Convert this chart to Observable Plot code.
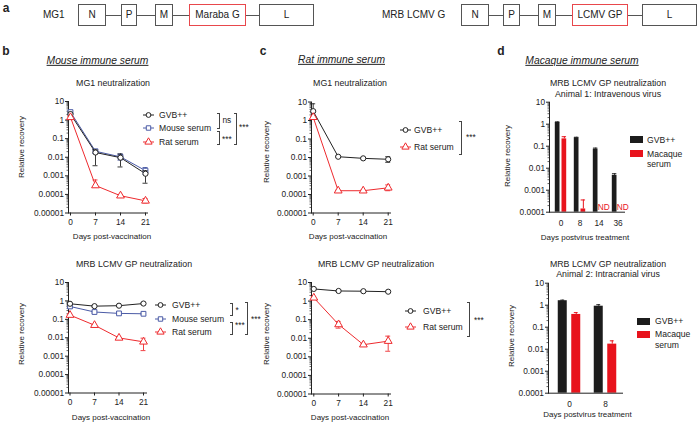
<!DOCTYPE html>
<html><head><meta charset="utf-8">
<script src="https://cdn.jsdelivr.net/npm/d3@7"></script>
<script src="https://cdn.jsdelivr.net/npm/@observablehq/plot@0.6"></script>
<style>
body{margin:0;background:#fff;}
#fig{position:relative;width:700px;height:426px;overflow:hidden;font-family:"Liberation Sans",Arial,Helvetica,sans-serif;color:#222;background:#fff;}
#fig > svg{position:absolute;left:0;top:0;background:transparent !important;}
.t{position:absolute;white-space:nowrap;line-height:1;}
.box{position:absolute;box-sizing:border-box;border:1px solid #555;display:flex;align-items:center;justify-content:center;font-size:10px;background:#fff;}
.hl{position:absolute;height:1px;background:#555;}
.br{position:absolute;box-sizing:border-box;border:1px solid #444;border-left:none;width:3px;}
</style></head><body><div id="fig"></div><script>
// ---------- data ----------
const days = [0, 7, 14, 21];
const yTicks = [10, 1, 0.1, 0.01, 0.001, 0.0001, 0.00001];
const yTickLabels = ["10", "1", "0.1", "0.01", "0.001", "0.0001", "0.00001"];
const seriesNames = ["GVB++", "Mouse serum", "Rat serum"];

// b (top): MG1 neutralization, mouse immune serum
const mg1MouseGVB   = [2.1, 0.018, 0.0095, 0.0013];
const mg1MouseGVBLo = [1.7, 0.0035, 0.003, 0.0004];
const mg1MouseGVBHi = [2.6, 0.025, 0.015, 0.0019];
const mg1MouseMou   = [2.7, 0.021, 0.0105, 0.0019];
const mg1MouseMouLo = [2.2, 0.016, 0.007, 0.0012];
const mg1MouseMouHi = [3.2, 0.026, 0.015, 0.0028];
const mg1MouseRat   = [1.4, 0.0003, 0.000085, 0.000045];
const mg1MouseRatLo = [1.2, 0.00025, 0.00007, 0.000035];
const mg1MouseRatHi = [1.6, 0.0006, 0.0001, 0.00006];

// b (bottom): MRB LCMV GP neutralization, mouse immune serum
const lcmvMouseGVB   = [0.7, 0.52, 0.55, 0.72];
const lcmvMouseGVBLo = [0.6, 0.47, 0.5, 0.66];
const lcmvMouseGVBHi = [0.8, 0.57, 0.6, 0.78];
const lcmvMouseMou   = [0.5, 0.25, 0.21, 0.2];
const lcmvMouseMouLo = [0.4, 0.22, 0.19, 0.18];
const lcmvMouseMouHi = [0.6, 0.28, 0.23, 0.22];
const lcmvMouseRat   = [0.17, 0.048, 0.0098, 0.006];
const lcmvMouseRatLo = [0.15, 0.043, 0.0088, 0.002];
const lcmvMouseRatHi = [0.19, 0.053, 0.011, 0.0095];

// c (top): MG1 neutralization, rat immune serum
const mg1RatGVB   = [3.2, 0.011, 0.009, 0.008];
const mg1RatGVBLo = [2.6, 0.0105, 0.0085, 0.0055];
const mg1RatGVBHi = [8, 0.0118, 0.0095, 0.011];
const mg1RatRat   = [1.5, 0.00016, 0.00016, 0.00023];
const mg1RatRatLo = [1.3, 0.00015, 0.00015, 0.00016];
const mg1RatRatHi = [1.7, 0.00017, 0.00017, 0.00033];

// c (bottom): MRB LCMV GP neutralization, rat immune serum
const lcmvRatGVB   = [4.5, 3.5, 3.4, 3.2];
const lcmvRatGVBLo = [4.0, 3.3, 3.2, 3.0];
const lcmvRatGVBHi = [5.0, 3.7, 3.6, 3.4];
const lcmvRatRat   = [1.5, 0.055, 0.0045, 0.007];
const lcmvRatRatLo = [1.3, 0.035, 0.004, 0.002];
const lcmvRatRatHi = [1.7, 0.08, 0.005, 0.013];

// d: macaque immune serum (bars)
const barSeries = ["GVB++", "Macaque serum"];
const a1Days = ["0", "8", "14", "36"];
const a1GVB   = [1.2, 0.24, 0.073, 0.0047];
const a1GVBHi = [1.27, 0.255, 0.082, 0.0056];
const a1Mac   = [0.215, 0.00014, null, null];
const a1MacHi = [0.27, 0.00036, null, null];
const a1ND    = ["14", "36"];
const a2Days = ["0", "8"];
const a2GVB   = [1.6, 0.9];
const a2GVBHi = [1.7, 1.05];
const a2Mac   = [0.38, 0.017];
const a2MacHi = [0.46, 0.024];

// schematic
const mg1Genes = ["N", "P", "M", "Maraba G", "L"];
const mrbGenes = ["N", "P", "M", "LCMV GP", "L"];

// ---------- styles ----------
const BLACK = "#222", BLUE = "#4b5ba6", RED = "#ee2a2e", BARBLK = "#1c1c1c", BARRED = "#e8131c";
const FONT = "'Liberation Sans', Arial, Helvetica, sans-serif";
const fig = document.getElementById("fig");

function fmtY(d) { const i = yTicks.indexOf(d); return i >= 0 ? yTickLabels[i] : ""; }
function minorTicks(k0, k1) {
  const out = [];
  for (let k = k0; k < k1; k++) for (let m = 2; m <= 9; m++) out.push(+(m * Math.pow(10, k)).toPrecision(3));
  return out;
}
function plotStyle() {
  return {background: "transparent", fontFamily: FONT, fontSize: "8.3px", color: "#222", overflow: "visible"};
}

function linePanel(p) {
  const marks = [
    Plot.axisY({ticks: minorTicks(-5, 1), tickSize: 1.5, tickFormat: () => "", label: null, strokeWidth: 0.7}),
    Plot.axisY({ticks: yTicks, tickSize: 3, tickPadding: 1.5, tickFormat: fmtY, label: null}),
    Plot.axisX({ticks: days, tickSize: 3, tickPadding: 3.5, label: null}),
    Plot.frame({anchor: "left", stroke: "#222"}),
    Plot.frame({anchor: "bottom", stroke: "#222"})
  ];
  for (const s of p.series) {
    const rows = days.map((d, i) => ({day: d, v: s.v[i], lo: s.lo[i], hi: s.hi[i], name: s.name}));
    marks.push(
      Plot.ruleX(rows, {x: "day", y1: "lo", y2: "hi", stroke: s.color, strokeWidth: 0.9}),
      Plot.ruleY(rows, {x1: d => d.day - 0.7, x2: d => d.day + 0.7, y: "lo", stroke: s.color, strokeWidth: 0.9}),
      Plot.ruleY(rows, {x1: d => d.day - 0.7, x2: d => d.day + 0.7, y: "hi", stroke: s.color, strokeWidth: 0.9}),
      Plot.line(rows, {x: "day", y: "v", stroke: s.color, strokeWidth: 1}),
      Plot.dot(rows, {x: "day", y: "v", symbol: s.symbol, r: s.r, fill: "white", stroke: s.color, strokeWidth: 1})
    );
  }
  return Plot.plot({
    width: 700, height: 426,
    marginLeft: p.L, marginRight: 700 - p.R, marginTop: p.T, marginBottom: 426 - p.B,
    style: plotStyle(),
    x: {domain: [0, 21], range: [p.x0, p.x1]},
    y: {type: "log", domain: [1e-5, 10]},
    marks
  });
}

function barPanel(p) {
  const n = p.cats.length, half = p.step / 2, g = p.gap / 2, w = p.barW;
  const r0 = p.c0 - half;
  const inA = half - g - w, inB = half + g;
  const offA = -(g + w / 2), offB = g + w / 2, cap = Math.min(2.2, w / 2);
  const gRows = p.cats.map((c, i) => ({day: c, v: p.gvb[i], hi: p.gvbHi[i]}));
  const mRows = p.cats.map((c, i) => ({day: c, v: p.mac[i], hi: p.macHi[i]})).filter(d => d.v != null);
  const ndRows = p.nd.map(c => ({day: c}));
  return Plot.plot({
    width: 700, height: 426,
    marginLeft: p.L, marginRight: 700 - p.R, marginTop: p.T, marginBottom: 426 - p.B,
    style: plotStyle(),
    x: {type: "band", domain: p.cats, range: [r0, r0 + p.step * n], padding: 0},
    y: {type: "log", domain: [1e-4, 10]},
    marks: [
      Plot.axisY({ticks: minorTicks(-4, 1), tickSize: 1.5, tickFormat: () => "", label: null, strokeWidth: 0.7}),
      Plot.axisY({ticks: yTicks.slice(0, 6), tickSize: 3, tickPadding: 1.5, tickFormat: fmtY, label: null}),
      Plot.axisX({tickSize: 0, tickPadding: 7.5, label: null}),
      Plot.ruleX(gRows, {x: "day", y1: "v", y2: "hi", dx: offA, stroke: BARBLK}),
      Plot.tickY(gRows, {x: "day", y: "hi", insetLeft: half + offA - cap, insetRight: half - offA - cap, stroke: BARBLK}),
      Plot.barY(gRows, {x: "day", y1: () => 1e-4, y2: "v", fill: BARBLK, insetLeft: inA, insetRight: inB}),
      Plot.ruleX(mRows, {x: "day", y1: "v", y2: "hi", dx: offB, stroke: BARRED}),
      Plot.tickY(mRows, {x: "day", y: "hi", insetLeft: half + offB - cap, insetRight: half - offB - cap, stroke: BARRED}),
      Plot.barY(mRows, {x: "day", y1: () => 1e-4, y2: "v", fill: BARRED, insetLeft: inB, insetRight: inA}),
      Plot.text(ndRows, {x: "day", y: () => 1e-4, text: () => "ND", dx: offB + 1.5, dy: -5, fill: BARRED}),
      Plot.frame({anchor: "left", stroke: "#222"}),
      Plot.frame({anchor: "bottom", stroke: "#222"})
    ]
  });
}

// ---------- charts ----------
fig.appendChild(linePanel({L: 68, R: 147, T: 101, B: 212.5, x0: 70, x1: 145, series: [
  {name: seriesNames[1], v: mg1MouseMou, lo: mg1MouseMouLo, hi: mg1MouseMouHi, color: BLUE, symbol: "square", r: 2.7},
  {name: seriesNames[0], v: mg1MouseGVB, lo: mg1MouseGVBLo, hi: mg1MouseGVBHi, color: BLACK, symbol: "circle", r: 2.6},
  {name: seriesNames[2], v: mg1MouseRat, lo: mg1MouseRatLo, hi: mg1MouseRatHi, color: RED, symbol: "triangle", r: 2.9}
]}));
fig.appendChild(linePanel({L: 68, R: 146, T: 282, B: 392.5, x0: 69.5, x1: 143, series: [
  {name: seriesNames[1], v: lcmvMouseMou, lo: lcmvMouseMouLo, hi: lcmvMouseMouHi, color: BLUE, symbol: "square", r: 2.7},
  {name: seriesNames[0], v: lcmvMouseGVB, lo: lcmvMouseGVBLo, hi: lcmvMouseGVBHi, color: BLACK, symbol: "circle", r: 2.6},
  {name: seriesNames[2], v: lcmvMouseRat, lo: lcmvMouseRatLo, hi: lcmvMouseRatHi, color: RED, symbol: "triangle", r: 2.9}
]}));
fig.appendChild(linePanel({L: 311, R: 390, T: 101.5, B: 212.5, x0: 312.7, x1: 387.7, series: [
  {name: seriesNames[0], v: mg1RatGVB, lo: mg1RatGVBLo, hi: mg1RatGVBHi, color: BLACK, symbol: "circle", r: 2.6},
  {name: seriesNames[2], v: mg1RatRat, lo: mg1RatRatLo, hi: mg1RatRatHi, color: RED, symbol: "triangle", r: 2.9}
]}));
fig.appendChild(linePanel({L: 311, R: 390, T: 282, B: 393.5, x0: 313.3, x1: 387.7, series: [
  {name: seriesNames[0], v: lcmvRatGVB, lo: lcmvRatGVBLo, hi: lcmvRatGVBHi, color: BLACK, symbol: "circle", r: 2.6},
  {name: seriesNames[2], v: lcmvRatRat, lo: lcmvRatRatLo, hi: lcmvRatRatHi, color: RED, symbol: "triangle", r: 2.9}
]}));
fig.appendChild(barPanel({L: 549, R: 624, T: 101.7, B: 211.7, cats: a1Days, c0: 560, step: 19, barW: 4.7, gap: 2,
  gvb: a1GVB, gvbHi: a1GVBHi, mac: a1Mac, macHi: a1MacHi, nd: a1ND}));
fig.appendChild(barPanel({L: 548, R: 622, T: 282.7, B: 392.7, cats: a2Days, c0: 568.5, step: 36.5, barW: 9.5, gap: 4,
  gvb: a2GVB, gvbHi: a2GVBHi, mac: a2Mac, macHi: a2MacHi, nd: []}));

// ---------- text & annotations ----------
function txt(s, x, y, o = {}) {
  const d = document.createElement("div");
  d.className = "t";
  d.textContent = s;
  const a = o.anchor || "middle";
  const tx = a === "start" ? "0" : a === "end" ? "-100%" : "-50%";
  d.style.left = x + "px"; d.style.top = y + "px";
  d.style.fontSize = (o.size || 8.5) + "px";
  if (o.weight) d.style.fontWeight = o.weight;
  if (o.italic) d.style.fontStyle = "italic";
  if (o.underline) d.style.textDecoration = "underline";
  if (o.color) d.style.color = o.color;
  d.style.transform = `translate(${tx},-50%)` + (o.rotate ? ` rotate(${o.rotate}deg)` : "");
  fig.appendChild(d);
  return d;
}
function bracket(x, y1, y2) {
  const d = document.createElement("div");
  d.className = "br";
  d.style.left = (x - 3) + "px"; d.style.top = y1 + "px"; d.style.height = (y2 - y1) + "px";
  fig.appendChild(d);
}
function lineLegend(items, sx, tx, ys) {
  items.forEach((it, i) => {
    const sw = 11;
    const svg = d3.create("svg").attr("width", sw + 2).attr("height", 10)
      .style("position", "absolute").style("left", (sx - 1) + "px").style("top", (ys[i] - 5) + "px").style("overflow", "visible");
    svg.append("line").attr("x1", 1).attr("x2", sw + 1).attr("y1", 5).attr("y2", 5).attr("stroke", it.color).attr("stroke-width", 1);
    const type = it.symbol === "circle" ? d3.symbolCircle : it.symbol === "square" ? d3.symbolSquare : d3.symbolTriangle;
    svg.append("path").attr("d", d3.symbol(type, Math.PI * it.r * it.r)()).attr("transform", `translate(${sw / 2 + 1},5)`)
      .attr("fill", "white").attr("stroke", it.color).attr("stroke-width", 1);
    fig.appendChild(svg.node());
    txt(it.name, tx, ys[i], {anchor: "start", size: 8.6});
  });
}
function barLegend(sx, tx, y1, y2, y3) {
  [[BARBLK, y1], [BARRED, y2]].forEach(([c, y]) => {
    const d = document.createElement("div");
    d.style.cssText = `position:absolute;left:${sx}px;top:${y - 3.5}px;width:13px;height:7px;background:${c}`;
    fig.appendChild(d);
  });
  txt(barSeries[0], tx, y1, {anchor: "start", size: 8.6});
  txt("Macaque", tx, y2, {anchor: "start", size: 8.6});
  txt("serum", tx, y3, {anchor: "start", size: 8.6});
}

// panel letters
txt("a", 6, 8, {size: 12, weight: "bold"});
txt("b", 6, 51, {size: 12, weight: "bold"});
txt("c", 263, 51, {size: 12, weight: "bold"});
txt("d", 501, 51, {size: 12, weight: "bold"});

// schematic (panel a)
function schematic(label, labelX, genes, edges, redIdx) {
  txt(label, labelX, 15, {size: 10, anchor: "start"});
  edges.forEach(([x1, x2], i) => {
    const b = document.createElement("div");
    b.className = "box";
    b.textContent = genes[i];
    b.style.cssText += `left:${x1}px;top:4px;width:${x2 - x1}px;height:21.5px;` + (i === redIdx ? "border-color:#e8474c;" : "");
    fig.appendChild(b);
    if (i < edges.length - 1) {
      const l = document.createElement("div");
      l.className = "hl";
      l.style.cssText += `left:${x2}px;top:14.5px;width:${edges[i + 1][0] - x2}px;`;
      fig.appendChild(l);
    }
  });
}
schematic("MG1", 43, mg1Genes, [[78, 106], [121, 137], [155, 173], [189, 246], [259, 314]], 3);
schematic("MRB LCMV G", 382, mrbGenes, [[461, 489], [503, 520], [538, 556], [572, 628], [642, 697]], 3);

// section headers
txt("Mouse immune serum", 97.5, 61, {size: 10.3, italic: true, underline: true});
txt("Rat immune serum", 341.5, 60, {size: 10.3, italic: true, underline: true});
txt("Macaque immune serum", 582, 61, {size: 10.3, italic: true, underline: true});

// chart titles
txt("MG1 neutralization", 113, 83, {size: 8.8});
txt("MRB LCMV GP neutralization", 134, 264, {size: 8.8});
txt("MG1 neutralization", 350, 83, {size: 8.8});
txt("MRB LCMV GP neutralization", 376, 264, {size: 8.8});
txt("MRB LCMV GP neutralization", 608, 83, {size: 8.8});
txt("Animal 1: Intravenous virus", 608, 93.5, {size: 8.8});
txt("MRB LCMV GP neutralization", 608, 264, {size: 8.8});
txt("Animal 2: Intracranial virus", 608, 273.5, {size: 8.8});

// axis labels
txt("Relative recovery", 22, 147, {size: 8, rotate: -90});
txt("Relative recovery", 22, 334, {size: 8, rotate: -90});
txt("Relative recovery", 266.5, 152, {size: 8, rotate: -90});
txt("Relative recovery", 266.5, 334, {size: 8, rotate: -90});
txt("Relative recovery", 508, 156, {size: 8, rotate: -90});
txt("Relative recovery", 511.5, 336, {size: 8, rotate: -90});
txt("Days post-vaccination", 112, 237, {size: 8});
txt("Days post-vaccination", 111, 417.5, {size: 8});
txt("Days post-vaccination", 348, 237, {size: 8});
txt("Days post-vaccination", 350, 417.5, {size: 8});
txt("Days postvirus treatment", 585, 238, {size: 8});
txt("Days postvirus treatment", 587.5, 415, {size: 8});

// legends
const legMouse = [
  {name: seriesNames[0], color: BLACK, symbol: "circle", r: 2.4},
  {name: seriesNames[1], color: BLUE, symbol: "square", r: 2.5},
  {name: seriesNames[2], color: RED, symbol: "triangle", r: 2.7}
];
const legRat = [legMouse[0], legMouse[2]];
lineLegend(legMouse, 143, 159, [115, 128, 141.5]);
lineLegend(legMouse, 155, 172, [305, 318.5, 332]);
lineLegend(legRat, 400, 414, [130, 147]);
lineLegend(legRat, 405, 423, [311, 327]);
barLegend(630, 647, 139.5, 153.5, 164);
barLegend(637, 655, 321, 334, 344.5);

// significance brackets
bracket(220, 112.7, 129); txt("ns", 222.5, 119.5, {anchor: "start", size: 8.3});
bracket(220, 131, 145); txt("***", 222, 138.5, {anchor: "start", size: 8.3});
bracket(237, 112.7, 145); txt("***", 239, 127, {anchor: "start", size: 8.3});
bracket(233, 302.7, 316); txt("*", 235.5, 310, {anchor: "start", size: 8.3});
bracket(233, 321.7, 335); txt("***", 235, 325, {anchor: "start", size: 8.3});
bracket(248, 301.7, 335); txt("***", 251, 318.7, {anchor: "start", size: 8.3});
bracket(462, 121, 155); txt("***", 466, 137, {anchor: "start", size: 8.3});
bracket(470, 301.7, 336.7); txt("***", 474, 320, {anchor: "start", size: 8.3});
</script></body></html>
